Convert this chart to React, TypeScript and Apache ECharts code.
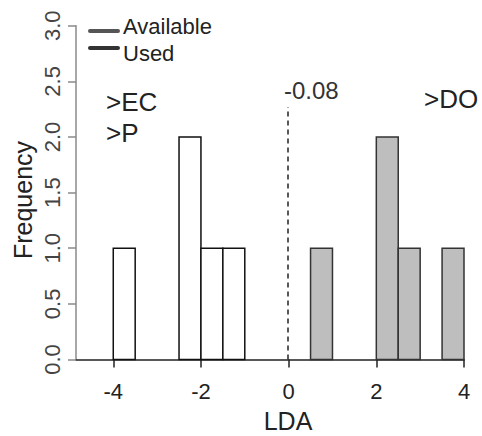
import React, { useEffect, useRef } from "react";
import * as echarts from "echarts";

// Histogram bins (width 0.5) of LDA scores
const binWidth = 0.5;
const availableBinStarts = [-4, -2.5, -2, -1.5];
const availableCounts = [1, 2, 1, 1];
const usedBinStarts = [0.5, 2, 2.5, 3.5];
const usedCounts = [1, 2, 1, 1];

const xTicks = [-4, -2, 0, 2, 4];
const xMin = -4.85;
const xMax = 4;
const yMin = 0;
const yMax = 3;
const yInterval = 0.5;

const cutoffLabel = "-0.08";
const cutoffLineX = -0.02;
const cutoffLineTop = 2.27;

const legendNames = ["Available", "Used"];
const groupLabelsLeft = [">EC", ">P"];
const groupLabelRight = ">DO";

const FONT = "'Liberation Sans', Arial, Helvetica, sans-serif";

function makeBins(starts: number[], counts: number[]) {
  return starts.map((s, i) => [s, s + binWidth, counts[i]]);
}

function barRenderer(fill: string, stroke: string) {
  return (params: any, api: any) => {
    const x0 = api.value(0);
    const x1 = api.value(1);
    const c = api.value(2);
    const p0 = api.coord([x0, 0]);
    const p1 = api.coord([x1, c]);
    return {
      type: "rect",
      shape: { x: p0[0], y: p1[1], width: p1[0] - p0[0], height: p0[1] - p1[1] },
      style: { fill, stroke, lineWidth: 1.5 },
    };
  };
}

function txt(text: string, x: number, y: number, size: number, extra: any = {}) {
  return {
    type: "text",
    x,
    y,
    rotation: extra.rotation || 0,
    style: {
      text,
      fontSize: size,
      fontFamily: FONT,
      fill: extra.fill || "#222",
      align: extra.align || "left",
      textAlign: extra.align || "left",
      verticalAlign: "middle",
      textVerticalAlign: "middle",
    },
  };
}

export default function App() {
  const ref = useRef<HTMLDivElement>(null);
  useEffect(() => {
    if (!ref.current) return;
    const chart = echarts.init(ref.current, undefined, { renderer: "svg" });
    chart.setOption({
      animation: false,
      backgroundColor: "#ffffff",
      textStyle: { fontFamily: FONT },
      grid: { left: 76, right: 18, top: 25.7, bottom: 76.5 },
      xAxis: {
        type: "value",
        min: xMin,
        max: xMax,
        axisLine: { show: true, onZero: false, lineStyle: { color: "#222", width: 1.5 } },
        axisTick: { show: true, customValues: xTicks, length: 8, lineStyle: { color: "#222", width: 1.5 } },
        axisLabel: {
          customValues: xTicks,
          fontSize: 22,
          color: "#222",
          margin: 21,
          fontFamily: FONT,
        },
        splitLine: { show: false },
      },
      yAxis: {
        type: "value",
        min: yMin,
        max: yMax,
        interval: yInterval,
        axisLine: { show: true, onZero: false, lineStyle: { color: "#8a8a8a", width: 1.5 } },
        axisTick: { show: true, length: 8, lineStyle: { color: "#8a8a8a", width: 1.5 } },
        axisLabel: {
          rotate: 90,
          fontSize: 22,
          color: "#444",
          margin: 13,
          fontFamily: FONT,
          formatter: (v: number) => v.toFixed(1),
        },
        splitLine: { show: false },
      },
      series: [
        {
          name: legendNames[0],
          type: "custom",
          renderItem: barRenderer("#ffffff", "#111"),
          encode: { x: [0, 1], y: 2 },
          data: makeBins(availableBinStarts, availableCounts),
          z: 2,
          markLine: {
            silent: true,
            symbol: "none",
            label: { show: false },
            lineStyle: { color: "#222", width: 1.5, type: [5, 4] },
            data: [[{ coord: [cutoffLineX, 0] }, { coord: [cutoffLineX, cutoffLineTop] }]],
          },
        },
        {
          name: legendNames[1],
          type: "custom",
          renderItem: barRenderer("#bebebe", "#333"),
          encode: { x: [0, 1], y: 2 },
          data: makeBins(usedBinStarts, usedCounts),
          z: 2,
        },
      ],
      graphic: [
        {
          type: "line",
          shape: { x1: 90, y1: 31, x2: 118, y2: 31 },
          style: { stroke: "#555", lineWidth: 4, lineCap: "round" },
        },
        {
          type: "line",
          shape: { x1: 90, y1: 48, x2: 118, y2: 48 },
          style: { stroke: "#333", lineWidth: 4, lineCap: "round" },
        },
        txt(legendNames[0], 123, 26, 22),
        txt(legendNames[1], 123, 53, 22),
        txt(groupLabelsLeft[0], 106, 102, 26),
        txt(groupLabelsLeft[1], 106, 133, 26),
        txt(groupLabelRight, 424, 99, 26),
        txt(cutoffLabel, 284, 90, 24, { fill: "#333" }),
        txt("LDA", 288, 421, 25, { align: "center" }),
        txt("Frequency", 23, 200, 25, { align: "center", rotation: Math.PI / 2 }),
      ],
    });
    return () => chart.dispose();
  }, []);
  return (
    <div
      ref={ref}
      style={{ position: "absolute", left: 0, top: 0, width: 482, height: 436 }}
    />
  );
}
